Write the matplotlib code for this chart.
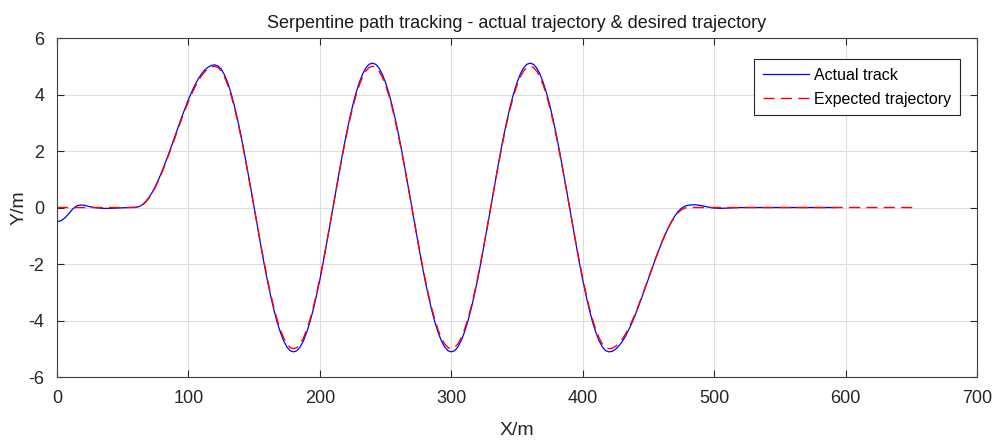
import matplotlib
matplotlib.use("Agg")
import matplotlib.pyplot as plt
import numpy as np

plt.rcParams["font.family"] = ["Liberation Sans Narrow", "Liberation Sans", "DejaVu Sans"]
plt.rcParams["axes.unicode_minus"] = False

# sample positions in the oscillating section, 60 m .. 480 m every 2.5 m
x_mid = list(np.arange(60, 482.5, 2.5))

# expected trajectory, read per half-wave
exp_rise = [0, 0.021, 0.085, 0.190, 0.335, 0.517, 0.732, 0.978, 1.25, 1.543, 1.853, 2.174,
            2.5, 2.826, 3.147, 3.457, 3.75, 4.022, 4.268, 4.483, 4.665, 4.810, 4.915, 4.979, 5.0]
exp_down = [4.957, 4.830, 4.619, 4.330, 3.967, 3.536, 3.044, 2.5, 1.913, 1.294, 0.653, 0,
            -0.653, -1.294, -1.913, -2.5, -3.044, -3.536, -3.967, -4.330, -4.619, -4.830, -4.957, -5.0]
exp_up = [-4.957, -4.830, -4.619, -4.330, -3.967, -3.536, -3.044, -2.5, -1.913, -1.294, -0.653, 0,
          0.653, 1.294, 1.913, 2.5, 3.044, 3.536, 3.967, 4.330, 4.619, 4.830, 4.957, 5.0]
exp_back = [-4.979, -4.915, -4.810, -4.665, -4.483, -4.268, -4.022, -3.75, -3.457, -3.147, -2.826, -2.5,
            -2.174, -1.853, -1.543, -1.25, -0.978, -0.732, -0.517, -0.335, -0.190, -0.085, -0.021, 0]

x_exp = [0] + x_mid + [652]
y_exp = [0] + exp_rise + exp_down + exp_up + exp_down + exp_up + exp_down + exp_back + [0]

# actual track
x_start = [0, 3, 6, 9, 12, 15, 18, 21, 24, 27, 30, 35, 40, 45, 50, 55]
y_start = [-0.5, -0.47, -0.37, -0.22, -0.05, 0.06, 0.09, 0.08, 0.04, 0.01,
           -0.01, -0.03, -0.03, -0.02, -0.01, 0]
act_rise = [0.01, 0.03, 0.1, 0.21, 0.36, 0.54, 0.76, 1.01, 1.29, 1.59, 1.9, 2.23,
            2.56, 2.89, 3.21, 3.52, 3.82, 4.09, 4.34, 4.55, 4.73, 4.87, 4.97, 5.03, 5.05]
act_down1 = [5.01, 4.9, 4.69, 4.41, 4.04, 3.6, 3.1, 2.55, 1.95, 1.32, 0.67, 0,
             -0.67, -1.32, -1.96, -2.56, -3.11, -3.61, -4.05, -4.42, -4.72, -4.94, -5.07, -5.11]
act_up = [-5.07, -4.94, -4.72, -4.42, -4.05, -3.61, -3.11, -2.56, -1.96, -1.32, -0.67, 0,
          0.67, 1.32, 1.96, 2.56, 3.11, 3.61, 4.05, 4.42, 4.72, 4.94, 5.07, 5.11]
act_down = [5.07, 4.94, 4.72, 4.42, 4.05, 3.61, 3.11, 2.56, 1.96, 1.32, 0.67, 0,
            -0.67, -1.32, -1.96, -2.56, -3.11, -3.61, -4.05, -4.42, -4.72, -4.94, -5.07, -5.11]
act_back = [-5.09, -5.02, -4.9, -4.75, -4.56, -4.33, -4.08, -3.8, -3.49, -3.18, -2.85, -2.52,
            -2.19, -1.87, -1.56, -1.26, -0.98, -0.73, -0.5, -0.31, -0.15, -0.03, 0.04, 0.08]
x_end = [485, 490, 495, 500, 505, 510, 515, 520, 593]
y_end = [0.1, 0.07, 0.02, -0.02, -0.03, -0.02, -0.01, 0, 0]

x_act = x_start + x_mid + x_end
y_act = (y_start + act_rise + act_down1 + act_up + act_down + act_up + act_down
         + act_back + y_end)

fig = plt.figure(figsize=(9.94, 4.41), dpi=100)
ax = fig.add_axes([0.0573, 0.1451, 0.9256, 0.7687])

ax.plot(x_act, y_act, color="#0000ff", lw=0.9, label="Actual track")
ax.plot(x_exp, y_exp, color="#ff0000", lw=1.0, ls=(0, (8, 4.5)), label="Expected trajectory")

ax.set_xlim(0, 700)
ax.set_ylim(-6, 6)
ax.set_xticks(range(0, 701, 100))
ax.set_yticks(range(-6, 7, 2))
ax.grid(True, color="#dedede", lw=0.8)
ax.set_axisbelow(True)
ax.tick_params(direction="in", top=True, right=True, length=5, width=0.8,
               labelsize=13, colors="#262626", pad=9)
for s in ax.spines.values():
    s.set_color("#404040")
    s.set_linewidth(0.8)

ax.set_title("Serpentine path tracking - actual trajectory & desired trajectory",
             fontsize=13, color="#1a1a1a", pad=7)
ax.set_xlabel("X/m", fontsize=14, color="#262626", labelpad=11)
ax.set_ylabel("Y/m", fontsize=14, color="#262626", labelpad=1)

leg = ax.legend(loc="upper right", bbox_to_anchor=(0.9815, 0.938), borderaxespad=0,
                fontsize=11.5, fancybox=False, framealpha=1, edgecolor="#262626",
                handlelength=2.9, handletextpad=0.3, borderpad=0.55, labelspacing=0.55)
leg.get_frame().set_linewidth(0.8)

fig.savefig("out.png", dpi=100)
